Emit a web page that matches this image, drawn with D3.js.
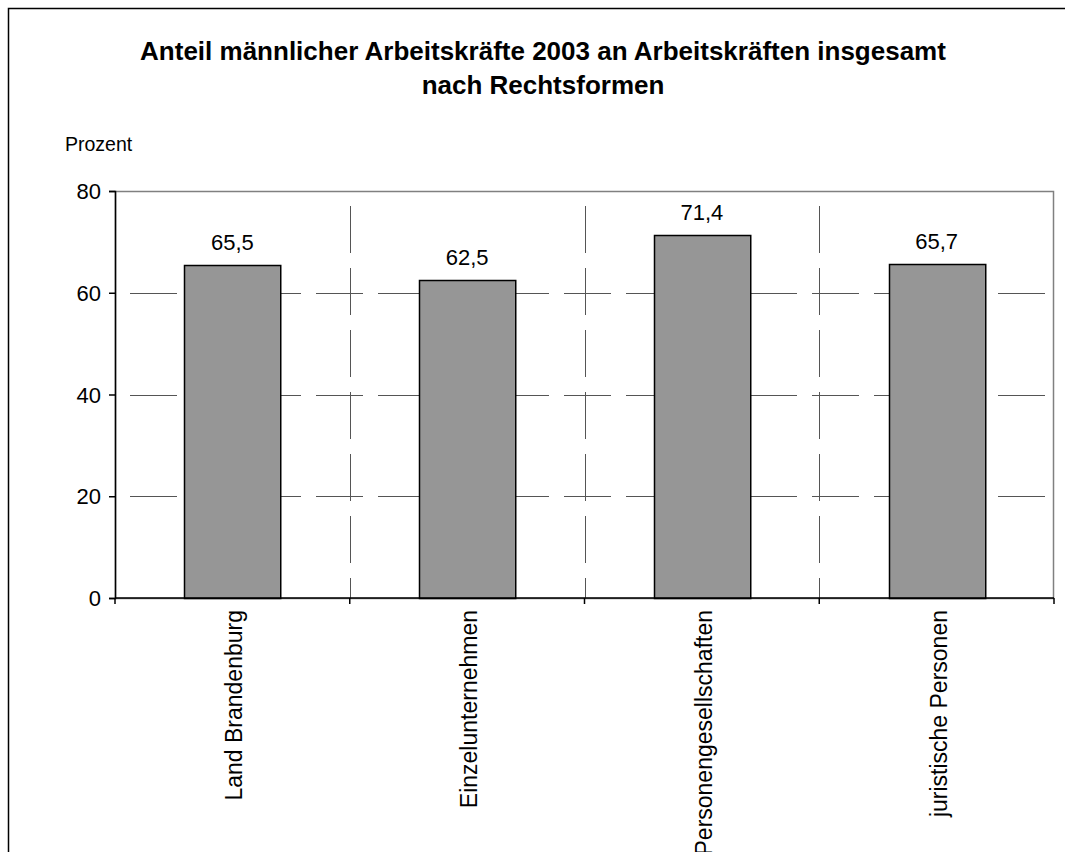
<!DOCTYPE html>
<html>
<head>
<meta charset="utf-8">
<script src="https://cdn.jsdelivr.net/npm/d3@7"></script>
<style>
  body { margin: 0; background: #fff; }
  text { font-family: "Liberation Sans", Arial, sans-serif; fill: #000; }
</style>
</head>
<body>
<svg id="chart" width="1065" height="852"></svg>
<script>
// chart data
const categories = ["Land Brandenburg", "Einzelunternehmen", "Personengesellschaften", "juristische Personen"];
const values = [65.5, 62.5, 71.4, 65.7];
const yTicks = [0, 20, 40, 60, 80];
const titleLines = ["Anteil männlicher Arbeitskräfte 2003 an Arbeitskräften insgesamt", "nach Rechtsformen"];

var svg = d3.select("#chart"),
  margin = {top: 191, left: 115, right: 11, bottom: 254},
  width = +svg.attr("width") - margin.left - margin.right,
  height = +svg.attr("height") - margin.top - margin.bottom;

// outer frame (runs off the right and bottom edge)
svg.append("rect")
  .attr("x", 8.5).attr("y", 8.5)
  .attr("width", 1100).attr("height", 900)
  .attr("fill", "none")
  .attr("stroke", "#000")
  .attr("stroke-width", 1.5);

svg.selectAll(".title").data(titleLines)
  .enter().append("text")
  .attr("class", "title")
  .attr("x", 543)
  .attr("y", (d, i) => 60 + i * 34)
  .attr("text-anchor", "middle")
  .style("font-size", "26px")
  .style("font-weight", "bold")
  .text(d => d);

svg.append("text")
  .attr("x", 65).attr("y", 151)
  .style("font-size", "19.5px")
  .text("Prozent");

var g = svg.append("g")
  .attr("transform", "translate(" + margin.left + "," + margin.top + ")");

var x = d3.scaleBand()
  .domain(categories)
  .range([0, width])
  .paddingInner(0.59)
  .paddingOuter(0.295);

var y = d3.scaleLinear()
  .domain([0, 80])
  .range([height, 0]);

var step = x.step();

// dashed gridlines
g.selectAll(".hgrid").data(yTicks.filter(t => t > 0 && t < 80))
  .enter().append("line")
  .attr("x1", 0).attr("x2", width)
  .attr("y1", d => Math.round(y(d)) + 0.5)
  .attr("y2", d => Math.round(y(d)) + 0.5)
  .attr("stroke", "#555")
  .attr("stroke-dasharray", "47,15")
  .attr("stroke-dashoffset", -15);

g.selectAll(".vgrid").data(d3.range(1, categories.length))
  .enter().append("line")
  .attr("x1", i => Math.round(i * step) + 0.5)
  .attr("x2", i => Math.round(i * step) + 0.5)
  .attr("y1", 0).attr("y2", height)
  .attr("stroke", "#555")
  .attr("stroke-dasharray", "47,15")
  .attr("stroke-dashoffset", -15);

// plot area border
g.append("rect")
  .attr("x", 0.5).attr("y", 0.5)
  .attr("width", width - 1).attr("height", height)
  .attr("fill", "none")
  .attr("stroke", "#808080")
  .attr("stroke-width", 1.5);

// bars
g.selectAll(".bar").data(values)
  .enter().append("rect")
  .attr("class", "bar")
  .attr("x", (d, i) => Math.round(x(categories[i])) + 0.5)
  .attr("y", d => Math.round(y(d)) + 0.5)
  .attr("width", x.bandwidth())
  .attr("height", d => height - Math.round(y(d)))
  .attr("fill", "#969696")
  .attr("stroke", "#000")
  .attr("stroke-width", 1.5);

g.selectAll(".val").data(values)
  .enter().append("text")
  .attr("x", (d, i) => x(categories[i]) + x.bandwidth() / 2)
  .attr("y", d => y(d) - 15)
  .attr("text-anchor", "middle")
  .style("font-size", "22px")
  .text(d => d3.format(".1f")(d).replace(".", ","));

// y axis
var yAxis = g.append("g")
  .call(d3.axisLeft(y).tickValues(yTicks).tickSize(6).tickPadding(8));
yAxis.select(".domain").attr("stroke", "#000").attr("stroke-width", 1.5);
yAxis.selectAll("line").attr("stroke", "#000").attr("stroke-width", 1.5);
yAxis.selectAll("text").style("font-size", "22px").attr("dy", "0.35em");

// x axis with ticks at category boundaries
var xAxis = g.append("g")
  .attr("transform", "translate(0," + height + ")");
xAxis.append("line")
  .attr("x1", 0).attr("x2", width)
  .attr("stroke", "#000").attr("stroke-width", 1.5);
xAxis.selectAll(".xtick").data(d3.range(categories.length + 1))
  .enter().append("line")
  .attr("x1", i => i * step).attr("x2", i => i * step)
  .attr("y1", 0).attr("y2", 6)
  .attr("stroke", "#000").attr("stroke-width", 1.5);

xAxis.selectAll(".xlab").data(categories)
  .enter().append("text")
  .attr("transform", d => "translate(" + (x(d) + x.bandwidth() / 2 + 10) + ",12) rotate(-90)")
  .attr("text-anchor", "end")
  .style("font-size", "23px")
  .text(d => d);
</script>
</body>
</html>
